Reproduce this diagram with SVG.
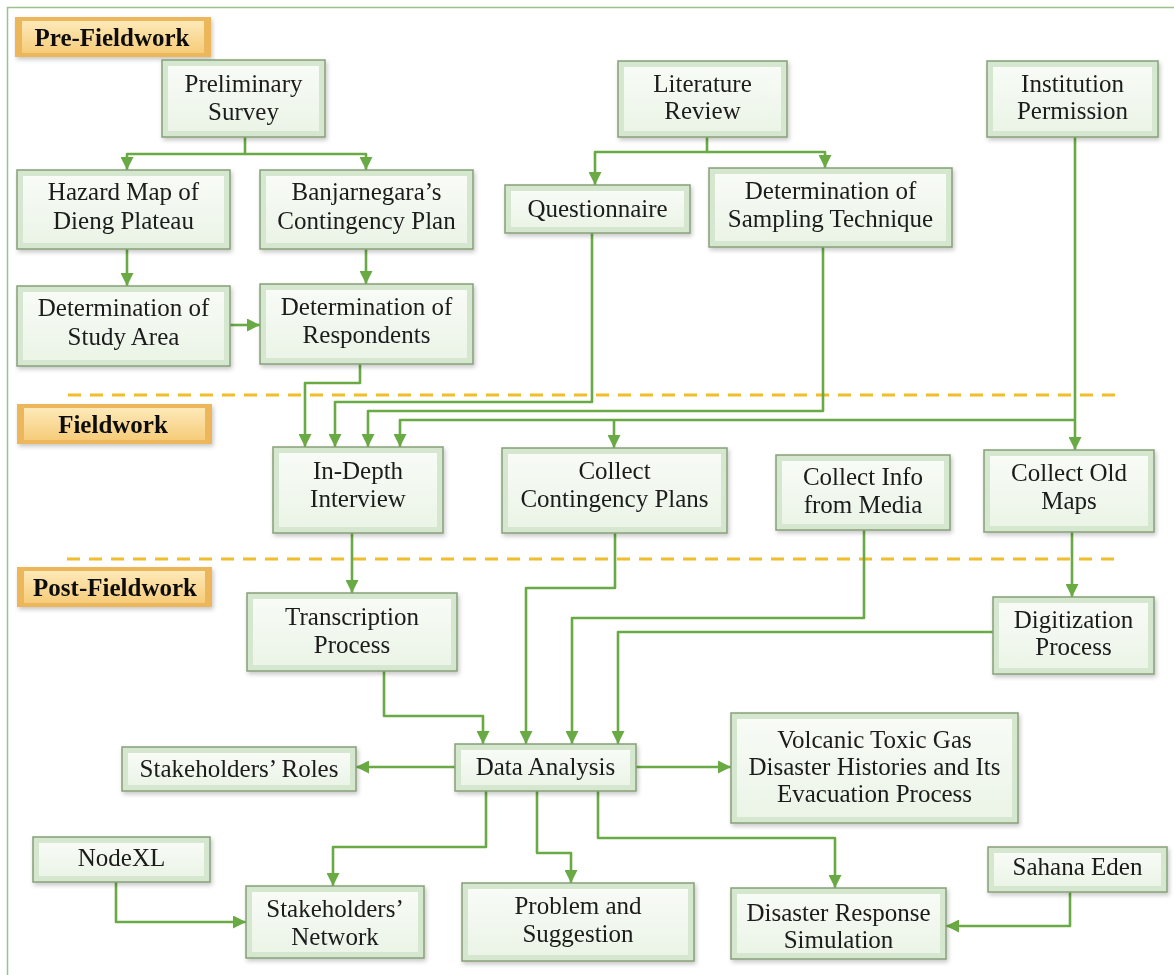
<svg xmlns="http://www.w3.org/2000/svg" width="1174" height="975" viewBox="0 0 1174 975">
<defs>
<linearGradient id="ng" x1="0" y1="0" x2="0" y2="1"><stop offset="0" stop-color="#f8fbf6"/><stop offset="1" stop-color="#ebf4e7"/></linearGradient>
<linearGradient id="lg" x1="0" y1="0" x2="0" y2="1"><stop offset="0" stop-color="#fde9b8"/><stop offset="1" stop-color="#f6cc7a"/></linearGradient>
<filter id="sh" x="-10%" y="-10%" width="130%" height="140%"><feDropShadow dx="1.5" dy="2.5" stdDeviation="2" flood-color="#000" flood-opacity="0.22"/></filter>
<marker id="ah" viewBox="0 0 10 10" refX="10" refY="5" markerWidth="13" markerHeight="13" markerUnits="userSpaceOnUse" orient="auto"><path d="M0,0 L10,5 L0,10 z" fill="#6aaa44"/></marker>
</defs>
<style>
.no{fill:#d6e7cf;stroke:#86a078;stroke-width:1.5}
.ni{fill:url(#ng)}
.lo{fill:#ecb65a;stroke:none}
.li{fill:url(#lg)}
.t{font-family:"Liberation Serif","Times New Roman",serif;font-size:25px;fill:#1a1a1a;text-anchor:middle}
.lt{font-family:"Liberation Serif","Times New Roman",serif;font-size:25px;font-weight:bold;fill:#111;text-anchor:middle}
.c{fill:none;stroke:#6aaa44;stroke-width:2.6;stroke-linejoin:round}
.a{marker-end:url(#ah)}
.d{stroke:#f0be2a;stroke-width:3;stroke-dasharray:13 9;fill:none}
</style>
<rect x="0" y="0" width="1174" height="975" fill="#fff"/>
<rect x="7.5" y="7.5" width="1180" height="990" fill="none" stroke="#9cc189" stroke-width="1.5"/>
<g id="dividers">
<line class="d" x1="68" y1="395" x2="1122" y2="395"/>
<line class="d" x1="67" y1="559" x2="1122" y2="559"/>
</g>
<g id="label-pre" filter="url(#sh)"><rect class="lo" x="15" y="17" width="196" height="40"/><rect class="li" x="22" y="21" width="182" height="32"/><text class="lt" x="112" y="46">Pre-Fieldwork</text></g>
<g id="label-field" filter="url(#sh)"><rect class="lo" x="17" y="404" width="195" height="40"/><rect class="li" x="24" y="408" width="181" height="32"/><text class="lt" x="113" y="433">Fieldwork</text></g>
<g id="label-post" filter="url(#sh)"><rect class="lo" x="17" y="567" width="195" height="40"/><rect class="li" x="24" y="571" width="181" height="32"/><text class="lt" x="115" y="596">Post-Fieldwork</text></g>
<g id="connectors">
<path class="c a" d="M245,137 V154 H127 V170"/>
<path class="c a" d="M245,154 H366 V170"/>
<path class="c a" d="M127,249 V286"/>
<path class="c a" d="M366,249 V284"/>
<path class="c a" d="M230,325 H260"/>
<path class="c a" d="M707,137 V152 H595 V185"/>
<path class="c a" d="M707,152 H825 V168"/>
<path class="c a" d="M360,364 V383 H305 V447"/>
<path class="c a" d="M592,233 V402 H335 V447"/>
<path class="c a" d="M823,247 V411 H368 V447"/>
<path class="c a" d="M1075,137 V450"/>
<path class="c a" d="M1075,420 H400 V447"/>
<path class="c a" d="M614,420 V448"/>
<path class="c a" d="M352,533 V593"/>
<path class="c a" d="M1072,532 V597"/>
<path class="c a" d="M615,533 V588 H526 V744"/>
<path class="c a" d="M864,530 V618 H572 V744"/>
<path class="c a" d="M993,632 H618 V744"/>
<path class="c a" d="M384,671 V716 H483 V744"/>
<path class="c a" d="M455,767 H356"/>
<path class="c a" d="M636,767 H731"/>
<path class="c a" d="M486,791 V847 H333 V886"/>
<path class="c a" d="M537,791 V853 H571 V883"/>
<path class="c a" d="M598,791 V838 H835 V888"/>
<path class="c a" d="M116,882 V922 H246"/>
<path class="c a" d="M1070,892 V926 H946"/>
</g>
<g id="n-prelim" filter="url(#sh)"><rect class="no" x="162" y="60" width="163" height="77"/><rect class="ni" x="168" y="66" width="151" height="65"/><text class="t" x="243.5" y="92">Preliminary</text><text class="t" x="243.5" y="120">Survey</text></g>
<g id="n-hazard" filter="url(#sh)"><rect class="no" x="17" y="170" width="213" height="79"/><rect class="ni" x="23" y="176" width="201" height="67"/><text class="t" x="123.5" y="200">Hazard Map of</text><text class="t" x="123.5" y="229">Dieng Plateau</text></g>
<g id="n-banjar" filter="url(#sh)"><rect class="no" x="260" y="170" width="213" height="79"/><rect class="ni" x="266" y="176" width="201" height="67"/><text class="t" x="366.5" y="200">Banjarnegara’s</text><text class="t" x="366.5" y="229">Contingency Plan</text></g>
<g id="n-studyarea" filter="url(#sh)"><rect class="no" x="17" y="286" width="213" height="80"/><rect class="ni" x="23" y="292" width="201" height="68"/><text class="t" x="123.5" y="316">Determination of</text><text class="t" x="123.5" y="345">Study Area</text></g>
<g id="n-respondents" filter="url(#sh)"><rect class="no" x="260" y="284" width="213" height="80"/><rect class="ni" x="266" y="290" width="201" height="68"/><text class="t" x="366.5" y="315">Determination of</text><text class="t" x="366.5" y="343">Respondents</text></g>
<g id="n-literature" filter="url(#sh)"><rect class="no" x="618" y="61" width="169" height="76"/><rect class="ni" x="624" y="67" width="157" height="64"/><text class="t" x="702.5" y="92">Literature</text><text class="t" x="702.5" y="119">Review</text></g>
<g id="n-questionnaire" filter="url(#sh)"><rect class="no" x="505" y="185" width="185" height="48"/><rect class="ni" x="511" y="191" width="173" height="36"/><text class="t" x="597.5" y="217">Questionnaire</text></g>
<g id="n-sampling" filter="url(#sh)"><rect class="no" x="709" y="168" width="243" height="79"/><rect class="ni" x="715" y="174" width="231" height="67"/><text class="t" x="830.5" y="199">Determination of</text><text class="t" x="830.5" y="227">Sampling Technique</text></g>
<g id="n-institution" filter="url(#sh)"><rect class="no" x="987" y="61" width="171" height="76"/><rect class="ni" x="993" y="67" width="159" height="64"/><text class="t" x="1072.5" y="92">Institution</text><text class="t" x="1072.5" y="119">Permission</text></g>
<g id="n-indepth" filter="url(#sh)"><rect class="no" x="273" y="447" width="170" height="86"/><rect class="ni" x="279" y="453" width="158" height="74"/><text class="t" x="358" y="479">In-Depth</text><text class="t" x="358" y="507">Interview</text></g>
<g id="n-collectcont" filter="url(#sh)"><rect class="no" x="502" y="448" width="225" height="85"/><rect class="ni" x="508" y="454" width="213" height="73"/><text class="t" x="614.5" y="479">Collect</text><text class="t" x="614.5" y="507">Contingency Plans</text></g>
<g id="n-media" filter="url(#sh)"><rect class="no" x="776" y="455" width="174" height="75"/><rect class="ni" x="782" y="461" width="162" height="63"/><text class="t" x="863" y="485">Collect Info</text><text class="t" x="863" y="513">from Media</text></g>
<g id="n-oldmaps" filter="url(#sh)"><rect class="no" x="984" y="450" width="170" height="82"/><rect class="ni" x="990" y="456" width="158" height="70"/><text class="t" x="1069" y="481">Collect Old</text><text class="t" x="1069" y="509">Maps</text></g>
<g id="n-transcription" filter="url(#sh)"><rect class="no" x="247" y="593" width="210" height="78"/><rect class="ni" x="253" y="599" width="198" height="66"/><text class="t" x="352" y="625">Transcription</text><text class="t" x="352" y="653">Process</text></g>
<g id="n-digitization" filter="url(#sh)"><rect class="no" x="993" y="597" width="161" height="77"/><rect class="ni" x="999" y="603" width="149" height="65"/><text class="t" x="1073.5" y="628">Digitization</text><text class="t" x="1073.5" y="655">Process</text></g>
<g id="n-dataanalysis" filter="url(#sh)"><rect class="no" x="455" y="744" width="181" height="47"/><rect class="ni" x="461" y="750" width="169" height="35"/><text class="t" x="545.5" y="775">Data Analysis</text></g>
<g id="n-roles" filter="url(#sh)"><rect class="no" x="122" y="747" width="234" height="44"/><rect class="ni" x="128" y="753" width="222" height="32"/><text class="t" x="239" y="777">Stakeholders’ Roles</text></g>
<g id="n-volcanic" filter="url(#sh)"><rect class="no" x="731" y="713" width="287" height="110"/><rect class="ni" x="737" y="719" width="275" height="98"/><text class="t" x="874.5" y="748">Volcanic Toxic Gas</text><text class="t" x="874.5" y="775">Disaster Histories and Its</text><text class="t" x="874.5" y="802">Evacuation Process</text></g>
<g id="n-nodexl" filter="url(#sh)"><rect class="no" x="33" y="837" width="177" height="45"/><rect class="ni" x="39" y="843" width="165" height="33"/><text class="t" x="121.5" y="866">NodeXL</text></g>
<g id="n-network" filter="url(#sh)"><rect class="no" x="246" y="886" width="178" height="72"/><rect class="ni" x="252" y="892" width="166" height="60"/><text class="t" x="335" y="917">Stakeholders’</text><text class="t" x="335" y="945">Network</text></g>
<g id="n-problem" filter="url(#sh)"><rect class="no" x="462" y="883" width="232" height="78"/><rect class="ni" x="468" y="889" width="220" height="66"/><text class="t" x="578" y="914">Problem and</text><text class="t" x="578" y="942">Suggestion</text></g>
<g id="n-drsim" filter="url(#sh)"><rect class="no" x="731" y="888" width="215" height="71"/><rect class="ni" x="737" y="894" width="203" height="59"/><text class="t" x="838.5" y="921">Disaster Response</text><text class="t" x="838.5" y="948">Simulation</text></g>
<g id="n-sahana" filter="url(#sh)"><rect class="no" x="988" y="847" width="179" height="45"/><rect class="ni" x="994" y="853" width="167" height="33"/><text class="t" x="1077.5" y="875">Sahana Eden</text></g>
</svg>
